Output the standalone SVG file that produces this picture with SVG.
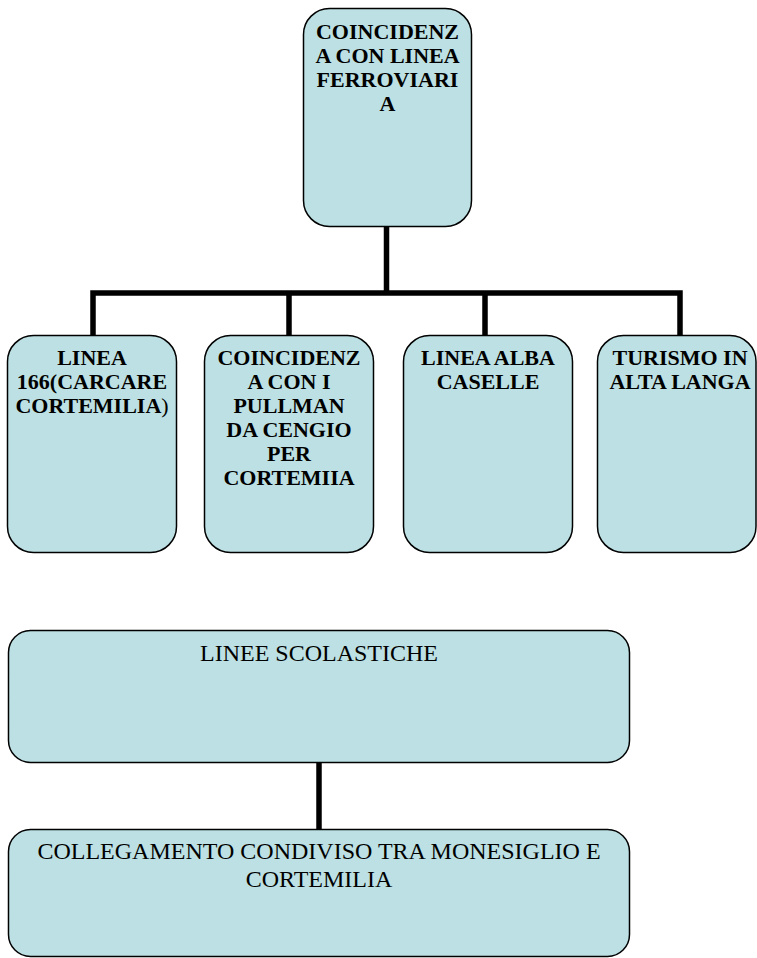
<svg xmlns="http://www.w3.org/2000/svg" width="757" height="958" viewBox="0 0 757 958">
<style>
.box{fill:#bce0e3;stroke:#000;stroke-width:1.5}
.b{font-family:"Liberation Serif","Times New Roman",serif;font-weight:bold;font-size:22px;fill:#000;text-anchor:middle}
.r{font-family:"Liberation Serif","Times New Roman",serif;font-size:24px;fill:#000;text-anchor:middle}
.conn{stroke:#000;stroke-width:5.5;fill:none}
</style>
<rect width="757" height="958" fill="#fff"/>
<g id="connectors">
<path class="conn" d="M386.5 226 V293 M93 293 H680 M93 290.3 V336 M289 293 V336 M485 293 V336 M680 290.3 V336"/>
<path class="conn" d="M319 763 V829"/>
</g>
<g id="n-ferroviaria">
<rect class="box" x="303.5" y="8.5" width="168" height="218" rx="26"/>
<text class="b" x="387.5" y="39">COINCIDENZ</text>
<text class="b" x="387.5" y="63">A CON LINEA</text>
<text class="b" x="387.5" y="87">FERROVIARI</text>
<text class="b" x="387.5" y="111">A</text>
</g>
<g id="n-linea166">
<rect class="box" x="7.5" y="335.5" width="169" height="217" rx="26"/>
<text class="b" x="92" y="365">LINEA</text>
<text class="b" x="92" y="389">166(CARCARE</text>
<text class="b" x="92" y="413">CORTEMILIA<tspan font-weight="normal">)</tspan></text>
</g>
<g id="n-pullman">
<rect class="box" x="204.5" y="335.5" width="169" height="217" rx="26"/>
<text class="b" x="289" y="365">COINCIDENZ</text>
<text class="b" x="289" y="389">A CON I</text>
<text class="b" x="289" y="413">PULLMAN</text>
<text class="b" x="289" y="437">DA CENGIO</text>
<text class="b" x="289" y="461">PER</text>
<text class="b" x="289" y="485">CORTEMIIA</text>
</g>
<g id="n-alba">
<rect class="box" x="403.5" y="335.5" width="169" height="217" rx="26"/>
<text class="b" x="488" y="365">LINEA ALBA</text>
<text class="b" x="488" y="389">CASELLE</text>
</g>
<g id="n-turismo">
<rect class="box" x="597.5" y="335.5" width="158.5" height="217" rx="26"/>
<text class="b" x="680" y="365">TURISMO IN</text>
<text class="b" x="680" y="389">ALTA LANGA</text>
</g>
<g id="n-scolastiche">
<rect class="box" x="8.5" y="630.5" width="621" height="132" rx="22"/>
<text class="r" x="319" y="661">LINEE SCOLASTICHE</text>
</g>
<g id="n-collegamento">
<rect class="box" x="8.5" y="829.5" width="621" height="127" rx="22"/>
<text class="r" x="319" y="859">COLLEGAMENTO CONDIVISO TRA MONESIGLIO E</text>
<text class="r" x="319" y="887">CORTEMILIA</text>
</g>
</svg>
